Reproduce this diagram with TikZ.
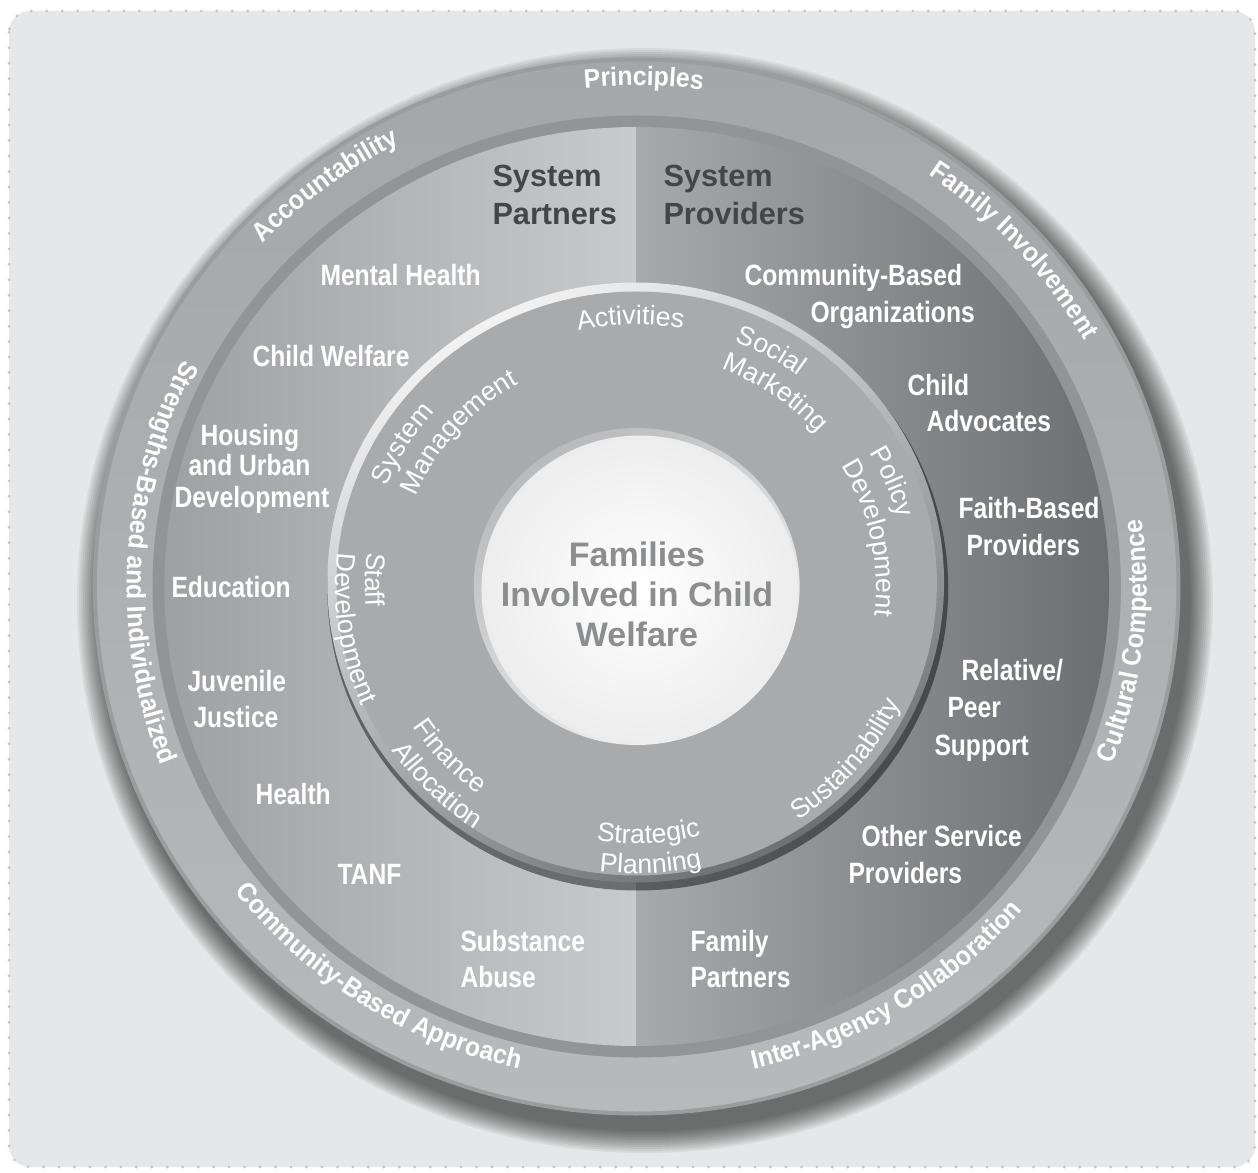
\documentclass[tikz,border=0pt]{standalone}
\usepackage{fontspec}
\setmainfont{Liberation Sans}
\newfontfamily\bandfont[FakeStretch=0.93]{Liberation Sans}
\newfontfamily\itemfont[FakeStretch=0.84]{Liberation Sans}
\usetikzlibrary{decorations.text}
\tikzset{every picture/.style={line width=0.75pt}}

\definecolor{bgpanel}{HTML}{E6E7E8}
\definecolor{dotgray}{HTML}{C6C7C9}
\definecolor{bandtop}{HTML}{A4A6A8}
\definecolor{bandbot}{HTML}{B7B9BB}
\definecolor{bandedge}{HTML}{9A9C9E}
\definecolor{rim}{HTML}{929496}
\definecolor{partl}{HTML}{9EA0A2}
\definecolor{partr}{HTML}{C9CACC}
\definecolor{provl}{HTML}{A7A9AB}
\definecolor{provr}{HTML}{6C6E71}
\definecolor{ringfill}{HTML}{A8AAAC}
\definecolor{bevlight}{HTML}{F2F2F3}
\definecolor{bevdark}{HTML}{6E7072}
\definecolor{hubdark}{HTML}{B8BABC}
\definecolor{hublight}{HTML}{F4F4F4}
\definecolor{hubedge}{HTML}{EDEDEE}
\definecolor{sysgray}{HTML}{434547}
\definecolor{famgray}{HTML}{8B8D8F}

\tikzset{
  dotframe/.style={draw=dotgray, fill=bgpanel, line width=2.4pt, line cap=round, dash pattern=on 0pt off 11.6pt, rounded corners=16pt},
  item/.style={anchor=base west, inner sep=0pt, text=white, font=\itemfont\bfseries\fontsize{22}{26}\selectfont},
  syslabel/.style={anchor=west, inner sep=0pt, align=left, text=sysgray, font=\bfseries\fontsize{23}{28.5}\selectfont},
  bandtext/.style={decorate, decoration={text along path, text align=center, text color=white, text={|\bandfont\bfseries\fontsize{20}{24}\selectfont|#1}}},
  acttext/.style={decorate, decoration={text along path, text color=white, text={|\fontsize{20}{23}\selectfont|#1}}},
  acttextc/.style={decorate, decoration={text along path, text align=center, text color=white, text={|\fontsize{20}{23}\selectfont|#1}}},
}

\begin{document}
\begin{tikzpicture}[x=0.75pt,y=0.75pt,yscale=-1,xscale=1]
\useasboundingbox (0,0) rectangle (1258,1173);
\fill[white] (0,0) rectangle (1258,1173);
%Shape: Rounded Rect
\draw[dotframe] (9,11) rectangle (1255,1167);

\begin{scope}[shift={(636.7,586.5)}, yscale=-1, xscale=1.028]
%Shadow of the outer ring
\foreach \k in {1,...,12}
  \fill[black, opacity=0.06] (8,-14) circle [radius={528.5+2*\k}];
%Shape: Ellipse, principles band
\shade[top color=bandtop, bottom color=bandbot] (0,0) circle [radius=528.5];
\draw[bandedge, line width=3] (0,0) circle [radius=527];
%Shape: Ellipse, rim
\fill[rim] (0,0) circle [radius=471];
%Shape: Half ellipse, system partners
\shade[left color=partl, right color=partr] (0,459.5) arc [start angle=90, end angle=270, radius=459.5] -- cycle;
%Shape: Half ellipse, system providers
\shade[left color=provl, right color=provr] (0,459.5) arc [start angle=90, end angle=-90, radius=459.5] -- cycle;
%Shape: Ellipse, activities ring
\fill[black, opacity=.45] (1,-2) circle [radius=302];
\shade[top color=bevlight, bottom color=bevdark, shading angle=30] (-1,4) circle [radius=300];
\fill[ringfill] (0,3) circle [radius=292];
%Shape: Ellipse, families
\shade[top color=hubdark, bottom color=hublight, shading angle=35] (0,0) circle [radius=158.5];
\shade[inner color=white, outer color=hubedge] (3,-3) circle [radius=154];

% Principles on the band
\path[bandtext={Principles}] (139.2:501) arc [start angle=139.2, end angle=39.2, radius=501];
\path[bandtext={Accountability}] (177.5:500) arc [start angle=177.5, end angle=77.5, radius=500];
\path[bandtext={Family Involvement}] (92:500) arc [start angle=92, end angle=-8, radius=500];
\path[bandtext={Strengths-Based and Individualized}] (117:496) arc [start angle=117, end angle=237, radius=496];
\path[bandtext={Community-Based Approach}] (187:496) arc [start angle=187, end angle=287, radius=496];
\path[bandtext={Inter-Agency Collaboration}] (251.6:496) arc [start angle=251.6, end angle=351.6, radius=496];
\path[bandtext={Cultural Competence}] (303.5:496) arc [start angle=303.5, end angle=403.5, radius=496];

% Activities on the ring
\path[acttextc={Activities}] (131.3:262) arc [start angle=131.3, end angle=51.3, radius=262];
\path[acttext={System}] (157.6:263) arc [start angle=157.6, end angle=77.6, radius=263];
\path[acttext={Management}] (157.3:233) arc [start angle=157.3, end angle=77.3, radius=233];
\path[acttext={Social}] (68.7:263) arc [start angle=68.7, end angle=-11.3, radius=263];
\path[acttext={Marketing}] (69.3:233) arc [start angle=69.3, end angle=-10.7, radius=233];
\path[acttext={Policy}] (30.5:263) arc [start angle=30.5, end angle=-49.5, radius=263];
\path[acttext={Development}] (31.3:233) arc [start angle=31.3, end angle=-48.7, radius=233];
\path[acttextc={Sustainability}] (270:282) arc [start angle=270, end angle=370, radius=282];
\path[acttext={Strategic}] (261.2:257) arc [start angle=261.2, end angle=341.2, radius=257];
\path[acttext={Planning}] (262.7:287) arc [start angle=262.7, end angle=342.7, radius=287];
\path[acttext={Finance}] (212.7:259) arc [start angle=212.7, end angle=292.7, radius=259];
\path[acttext={Allocation}] (214.5:289) arc [start angle=214.5, end angle=294.5, radius=289];
\path[acttext={Staff}] (172.5:264) arc [start angle=172.5, end angle=252.5, radius=264];
\path[acttext={Development}] (173.4:293) arc [start angle=173.4, end angle=253.4, radius=293];
\end{scope}

% Text Node
\node[syslabel] (sysp) at (492,195) {System\\Partners};
\node[syslabel] (syspr) at (663,195) {System\\Providers};
\node[align=center, inner sep=0pt, text=famgray, font=\bfseries\fontsize{25.5}{30}\selectfont] (fam) at (637,594) {Families\\Involved in Child\\Welfare};

% System partners
\node[item] (mh) at (320,286) {Mental Health};
\node[item] (cwf) at (252,367) {Child Welfare};
\node[item] (hud1) at (200,446) {Housing};
\node[item] (hud2) at (188,476) {and Urban};
\node[item] (hud3) at (174,508) {Development};
\node[item] (edu) at (171,597) {Education};
\node[item] (juv1) at (187,691) {Juvenile};
\node[item] (juv2) at (193,727) {Justice};
\node[item] (hea) at (255,804) {Health};
\node[item] (tanf) at (337,884) {TANF};
\node[item] (sub1) at (460,951) {Substance};
\node[item] (sub2) at (460,987) {Abuse};

% System providers
\node[item] (cbo1) at (744,286) {Community-Based};
\node[item] (cbo2) at (810,323) {Organizations};
\node[item] (ca1) at (907,396) {Child};
\node[item] (ca2) at (926,432) {Advocates};
\node[item] (fbp1) at (958,518) {Faith-Based};
\node[item] (fbp2) at (966,556) {Providers};
\node[item] (rps1) at (961,680) {Relative/};
\node[item] (rps2) at (947,717) {Peer};
\node[item] (rps3) at (934,755) {Support};
\node[item] (osp1) at (861,846) {Other Service};
\node[item] (osp2) at (848,883) {Providers};
\node[item] (fp1) at (690,951) {Family};
\node[item] (fp2) at (690,987) {Partners};

\end{tikzpicture}
\end{document}
